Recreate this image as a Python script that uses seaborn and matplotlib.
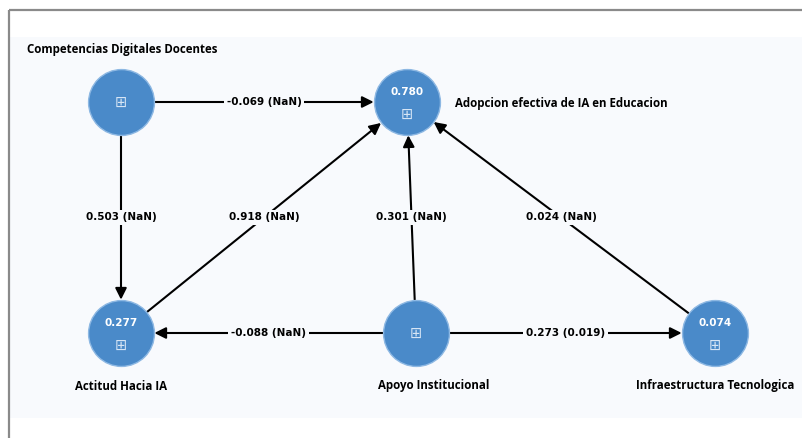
import matplotlib
matplotlib.use("Agg")
import matplotlib.pyplot as plt
import seaborn as sns
import pandas as pd
from matplotlib.patches import Rectangle

# Constructs and their R2 values (None = exogenous)
nodes = ['Competencias Digitales Docentes', 'Adopcion efectiva de IA en Educacion',
         'Actitud Hacia IA', 'Apoyo Institucional', 'Infraestructura Tecnologica']
r2 = [None, 0.780, 0.277, None, 0.074]

# Paths: source, target, coefficient, p-value text
edge_src = ['Competencias Digitales Docentes', 'Competencias Digitales Docentes',
            'Actitud Hacia IA', 'Apoyo Institucional', 'Infraestructura Tecnologica',
            'Apoyo Institucional', 'Apoyo Institucional']
edge_dst = ['Adopcion efectiva de IA en Educacion', 'Actitud Hacia IA',
            'Adopcion efectiva de IA en Educacion', 'Adopcion efectiva de IA en Educacion',
            'Adopcion efectiva de IA en Educacion', 'Actitud Hacia IA',
            'Infraestructura Tecnologica']
coef = [-0.069, 0.503, 0.918, 0.301, 0.024, -0.088, 0.273]
pval = ['NaN', 'NaN', 'NaN', 'NaN', 'NaN', 'NaN', '0.019']

# layout (pixel coordinates)
pos = {
    'Competencias Digitales Docentes': (121, 102),
    'Adopcion efectiva de IA en Educacion': (407, 102),
    'Actitud Hacia IA': (121, 333),
    'Apoyo Institucional': (416, 333),
    'Infraestructura Tecnologica': (715, 333),
}
name_pos = {
    'Competencias Digitales Docentes': (27, 49, 'left'),
    'Adopcion efectiva de IA en Educacion': (455, 103, 'left'),
    'Actitud Hacia IA': (121, 386, 'center'),
    'Apoyo Institucional': (434, 386, 'center'),
    'Infraestructura Tecnologica': (715, 386, 'center'),
}

panel = '#f8fafd'
node_color = '#4a8ac9'

df = pd.DataFrame({'name': nodes, 'r2': r2})
df['x'] = [pos[n][0] for n in nodes]
df['y'] = [pos[n][1] for n in nodes]

fig = plt.figure(figsize=(8.03, 4.38), dpi=100)
ax = fig.add_axes([0, 0, 1, 1])

# background panel and frame
ax.add_patch(Rectangle((10, 37), 800, 381, facecolor=panel, edgecolor='none', zorder=0))
ax.plot([9, 803], [10, 10], color='#8a8a8a', lw=1.6, zorder=1, solid_capstyle='butt')
ax.plot([9, 9], [10, 438], color='#8a8a8a', lw=1.6, zorder=1, solid_capstyle='butt')

# edges
for s, d, c, p in zip(edge_src, edge_dst, coef, pval):
    x0, y0 = pos[s]
    x1, y1 = pos[d]
    ax.annotate('', xy=(x1, y1), xytext=(x0, y0),
                arrowprops=dict(arrowstyle='-|>', color='black', lw=1.5,
                                mutation_scale=17, shrinkA=24, shrinkB=24),
                zorder=2)
    ax.text((x0 + x1) / 2, (y0 + y1) / 2, f'{c:.3f} ({p})', ha='center', va='center',
            fontsize=7.5, fontweight='bold', family='DejaVu Sans', zorder=4,
            bbox=dict(boxstyle='square,pad=0.25', facecolor=panel, edgecolor='none'))

# nodes
sns.scatterplot(data=df, x='x', y='y', s=2250, color=node_color, edgecolor='#8db8e3',
                linewidth=1, ax=ax, zorder=3, legend=False)
ax.set_xlim(0, 803)
ax.set_ylim(438, 0)
ax.axis('off')

for _, row in df.iterrows():
    if pd.notna(row['r2']):
        ax.text(row['x'], row['y'] - 10, f"{row['r2']:.3f}", ha='center', va='center',
                color='white', fontsize=7.5, fontweight='bold', family='DejaVu Sans', zorder=5)
        iy = row['y'] + 12
    else:
        iy = row['y']
    ax.text(row['x'], iy, '\u229e', ha='center', va='center', color='#d6e5f5',
            fontsize=10.5, family='DejaVu Sans', zorder=5)

for n in nodes:
    x, y, ha = name_pos[n]
    ax.text(x, y, n, ha=ha, va='center', fontsize=8.3, fontweight='bold',
            family='Open Sans', zorder=5)

fig.savefig('out.png', dpi=100, facecolor='white')
